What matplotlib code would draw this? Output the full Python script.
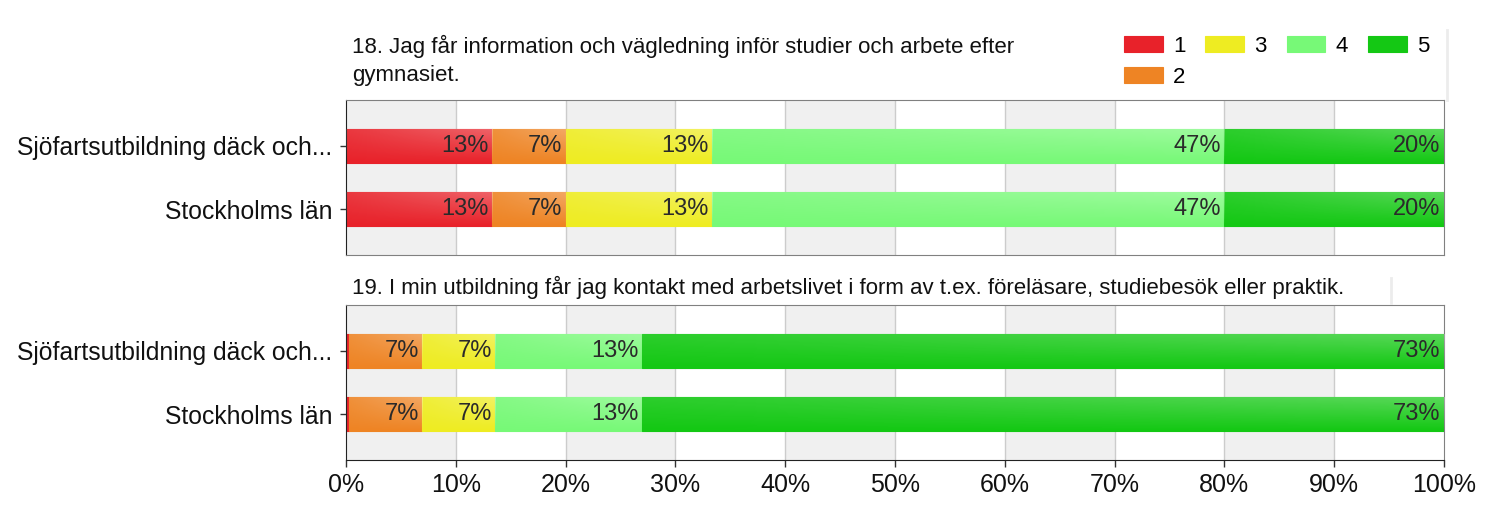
import matplotlib.pyplot as plt
import numpy as np

plt.rcParams['font.family'] = ['Liberation Sans', 'DejaVu Sans']

groups = ["Sjöfartsutbildning däck och...", "Stockholms län"]
levels = ["1", "2", "3", "4", "5"]
colors = ["#e8222a", "#ee8424", "#eeec22", "#77f977", "#14c814"]

titles = [
    "18. Jag får information och vägledning inför studier och arbete efter\ngymnasiet.",
    "19. I min utbildning får jag kontakt med arbetslivet i form av t.ex. föreläsare, studiebesök eller praktik.",
]
# percentages per level (1..5), same for both groups in each question
q18 = [13.33, 6.67, 13.33, 46.67, 20.0]
q19 = [0.25, 6.67, 6.67, 13.33, 73.08]
q18_labels = ["13%", "7%", "13%", "47%", "20%"]
q19_labels = ["", "7%", "7%", "13%", "73%"]

questions = [(q18, q18_labels), (q19, q19_labels)]

fig = plt.figure(figsize=(15, 5.12), dpi=100)

W, H = 1500, 512
rects = [(346, 100, 1444, 255), (346, 305, 1444, 460)]

# soft gradient: lighter towards the top right
gy, gx = np.mgrid[0:1:40j, 0:1:200j]
shine = np.clip(0.55 * (1 - gy) * (0.35 + 0.65 * gx), 0, 1) * 0.55


def shade(ax, patch):
    x0, y0 = patch.get_x(), patch.get_y()
    w, h = patch.get_width(), patch.get_height()
    if w <= 0.5:
        return
    img = np.ones((40, 200, 4))
    img[..., 3] = shine
    im = ax.imshow(img, extent=(x0, x0 + w, y0 + h, y0), aspect='auto',
                   zorder=3, interpolation='bilinear')
    im.set_clip_path(patch)


# faint panel shadows
fig.add_artist(plt.Line2D([1447 / W] * 2, [1 - 100 / H, 1 - 30 / H],
                          color="#ececec", lw=2))
fig.add_artist(plt.Line2D([1391 / W] * 2, [1 - 303 / H, 1 - 278 / H],
                          color="#ececec", lw=2))

axes = []
for qi, ((vals, labs), (l, t, r, b)) in enumerate(zip(questions, rects)):
    ax = fig.add_axes([l / W, 1 - b / H, (r - l) / W, (b - t) / H])
    axes.append(ax)
    for k in range(0, 100, 20):
        ax.axvspan(k, k + 10, color="#f0f0f0", zorder=0, lw=0)
    for k in range(10, 100, 10):
        ax.axvline(k, color="#cccccc", lw=1, zorder=1)

    y = np.arange(len(groups))
    left = np.zeros(len(groups))
    for i, lev in enumerate(levels):
        v = np.full(len(groups), vals[i])
        bars = ax.barh(y, v, left=left, height=0.55, color=colors[i],
                       edgecolor=colors[i], lw=0.8, zorder=2,
                       label=lev)
        for bar in bars:
            shade(ax, bar)
            if labs[i]:
                ax.text(bar.get_x() + bar.get_width() - 0.3,
                        bar.get_y() + bar.get_height() / 2, labs[i],
                        ha='right', va='center', fontsize=17,
                        color="#2a2a2a", zorder=5)
        left = left + v

    ax.set_xlim(0, 100)
    ax.set_ylim(1.73, -0.73)
    ax.set_yticks(y)
    ax.set_yticklabels(groups, fontsize=17.8, color="#111111")
    ax.tick_params(axis='y', length=4, width=1, color="#333333", pad=6)
    for s in ['top', 'right']:
        ax.spines[s].set_color("#808080")
    ax.spines['left'].set_color("#222222")
    if qi == 0:
        ax.spines['bottom'].set_color("#808080")
        ax.set_xticks([])
    else:
        ax.spines['bottom'].set_color("#222222")
        ax.set_xticks(np.arange(0, 101, 10))
        ax.set_xticklabels([f"{k}%" for k in range(0, 101, 10)], fontsize=18,
                           color="#111111")
        ax.tick_params(axis='x', length=5, width=1, color="#333333", pad=4)

    fig.text(352 / W, 1 - (t - 65 if qi == 0 else t - 29) / H, titles[qi],
             fontsize=16, va='top', ha='left', color="#111111",
             linespacing=1.4)

handles, labels = axes[0].get_legend_handles_labels()
fig.legend(handles, labels, ncol=4, loc='upper left',
           bbox_to_anchor=(1115 / W, 1 - 27 / H), frameon=False,
           fontsize=16, handlelength=1.75, handleheight=0.75,
           columnspacing=0.9, handletextpad=0.45, labelspacing=0.45,
           borderaxespad=0)

fig.savefig("out.png", dpi=100)
